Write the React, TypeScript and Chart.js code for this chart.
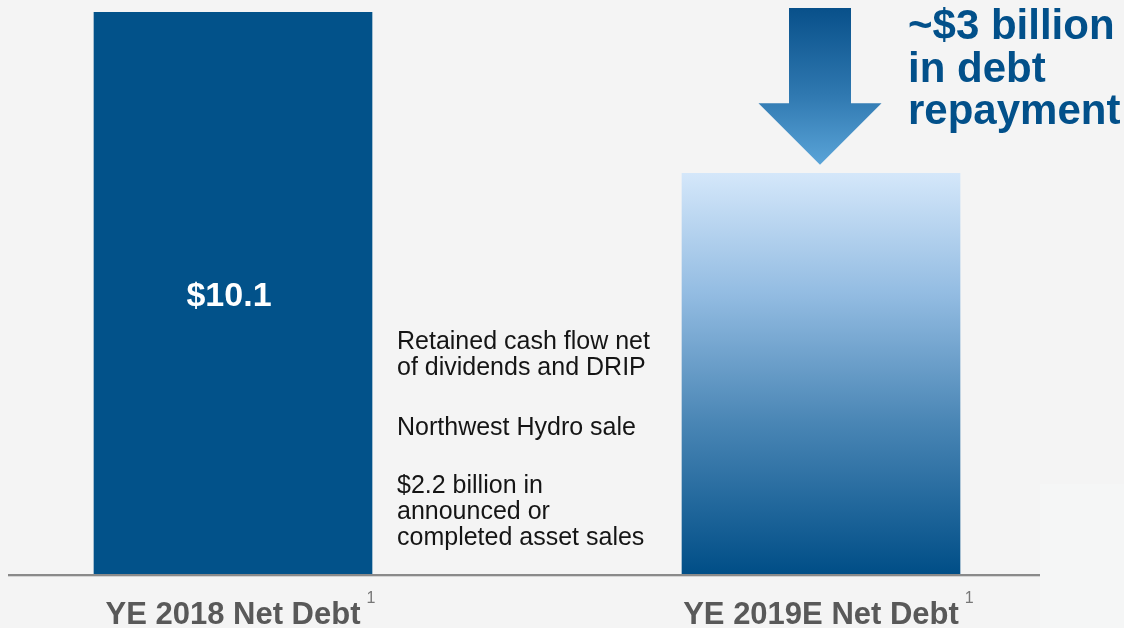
import React, { useEffect, useRef } from "react";
import { Chart, registerables } from "chart.js";

Chart.register(...registerables);

const categories = ["YE 2018 Net Debt", "", "YE 2019E Net Debt"];
const netDebt = [10.1, null, 7.2];
const valueLabels = ["$10.1", "", ""];
const footnoteMark = "1";
const driverLines = [
  "Retained cash flow net",
  "of dividends and DRIP",
  "Northwest Hydro sale",
  "$2.2 billion in",
  "announced or",
  "completed asset sales",
];
const calloutLines = ["~$3 billion", "in debt", "repayment"];

const FONT = 'Arial, "Liberation Sans", Helvetica, sans-serif';

const decorPlugin = {
  id: "decor",
  beforeDraw(chart: any) {
    const ctx = chart.ctx;
    ctx.save();
    ctx.fillStyle = "#f4f4f4";
    ctx.fillRect(0, 0, chart.width, chart.height);
    ctx.fillStyle = "#f5f6f6";
    ctx.fillRect(1040, 484, chart.width - 1040, chart.height - 484);
    ctx.restore();
  },
  afterDatasetsDraw(chart: any) {
    const ctx = chart.ctx;
    const area = chart.chartArea;
    const meta = chart.getDatasetMeta(0);
    const y = chart.scales.y;
    ctx.save();

    // baseline axis line
    ctx.fillStyle = "#8a8a8a";
    ctx.fillRect(8, area.bottom, 1032, 2.3);

    // category labels with footnote marks
    ctx.textBaseline = "alphabetic";
    categories.forEach((c, i) => {
      if (!c) return;
      const el = meta.data[i];
      ctx.font = `bold 31px ${FONT}`;
      ctx.fillStyle = "#595959";
      ctx.textAlign = "center";
      ctx.fillText(c, el.x, 623.5);
      const w = ctx.measureText(c).width;
      ctx.font = `16px ${FONT}`;
      ctx.fillStyle = "#777777";
      ctx.textAlign = "left";
      ctx.fillText(footnoteMark, el.x + w / 2 + 6, 603);
    });

    // value label inside first bar
    valueLabels.forEach((v, i) => {
      if (!v) return;
      const el = meta.data[i];
      const mid = (el.y + el.base) / 2;
      ctx.font = `bold 34px ${FONT}`;
      ctx.fillStyle = "#ffffff";
      ctx.textAlign = "center";
      ctx.fillText(v, el.x - 4, mid + 13);
    });

    // driver annotations
    ctx.font = `25px ${FONT}`;
    ctx.fillStyle = "#151515";
    ctx.textAlign = "left";
    const driverY = [349.3, 375.3, 434.8, 493.3, 519.3, 545.2];
    driverLines.forEach((t, i) => ctx.fillText(t, 397, driverY[i]));

    // arrow above second bar
    const bar2 = meta.data[2];
    const cx = bar2.x - 1;
    const tipY = y.getPixelForValue(netDebt[2] as number) - 8.5;
    const topY = 8;
    const headY = 103.3;
    const shaftHalf = 31;
    const headHalf = 61.5;
    const grad = ctx.createLinearGradient(0, topY, 0, tipY);
    grad.addColorStop(0, "#08508a");
    grad.addColorStop(0.55, "#2f78b0");
    grad.addColorStop(1, "#5aa4d8");
    ctx.fillStyle = grad;
    ctx.beginPath();
    ctx.moveTo(cx - shaftHalf, topY);
    ctx.lineTo(cx + shaftHalf, topY);
    ctx.lineTo(cx + shaftHalf, headY);
    ctx.lineTo(cx + headHalf, headY);
    ctx.lineTo(cx, tipY);
    ctx.lineTo(cx - headHalf, headY);
    ctx.lineTo(cx - shaftHalf, headY);
    ctx.closePath();
    ctx.fill();

    // callout text
    ctx.font = `bold 42px ${FONT}`;
    ctx.fillStyle = "#02508a";
    ctx.textAlign = "left";
    const calloutY = [39.3, 81.6, 123.8];
    calloutLines.forEach((t, i) => ctx.fillText(t, 908, calloutY[i]));

    ctx.restore();
  },
};

export default function App() {
  const ref = useRef<HTMLCanvasElement | null>(null);
  useEffect(() => {
    if (!ref.current) return;
    const chart = new Chart(ref.current, {
      type: "bar",
      data: {
        labels: categories,
        datasets: [
          {
            data: netDebt as any,
            barThickness: 278,
            borderWidth: 0,
            backgroundColor: (c: any) => {
              if (c.dataIndex === 0) return "#02528a";
              const ch = c.chart;
              const area = ch.chartArea;
              if (!area) return "#5a8fbf";
              const top = ch.scales.y.getPixelForValue(netDebt[2] as number);
              const g = ch.ctx.createLinearGradient(0, top, 0, area.bottom);
              g.addColorStop(0, "#d4e7fa");
              g.addColorStop(0.3, "#93bce2");
              g.addColorStop(0.62, "#4a86b5");
              g.addColorStop(1, "#004e87");
              return g;
            },
          },
        ],
      },
      options: {
        responsive: false,
        animation: false,
        events: [],
        layout: { padding: { left: 86, right: 156, top: 12, bottom: 54 } },
        plugins: { legend: { display: false }, tooltip: { enabled: false } },
        scales: {
          x: { display: false, offset: true },
          y: { display: false, min: 0, max: 10.1 },
        },
      },
      plugins: [decorPlugin],
    });
    return () => chart.destroy();
  }, []);
  return (
    <div style={{ position: "fixed", left: 0, top: 0, width: 1124, height: 628, background: "#f4f4f4" }}>
      <canvas ref={ref} width={1124} height={628} />
    </div>
  );
}
